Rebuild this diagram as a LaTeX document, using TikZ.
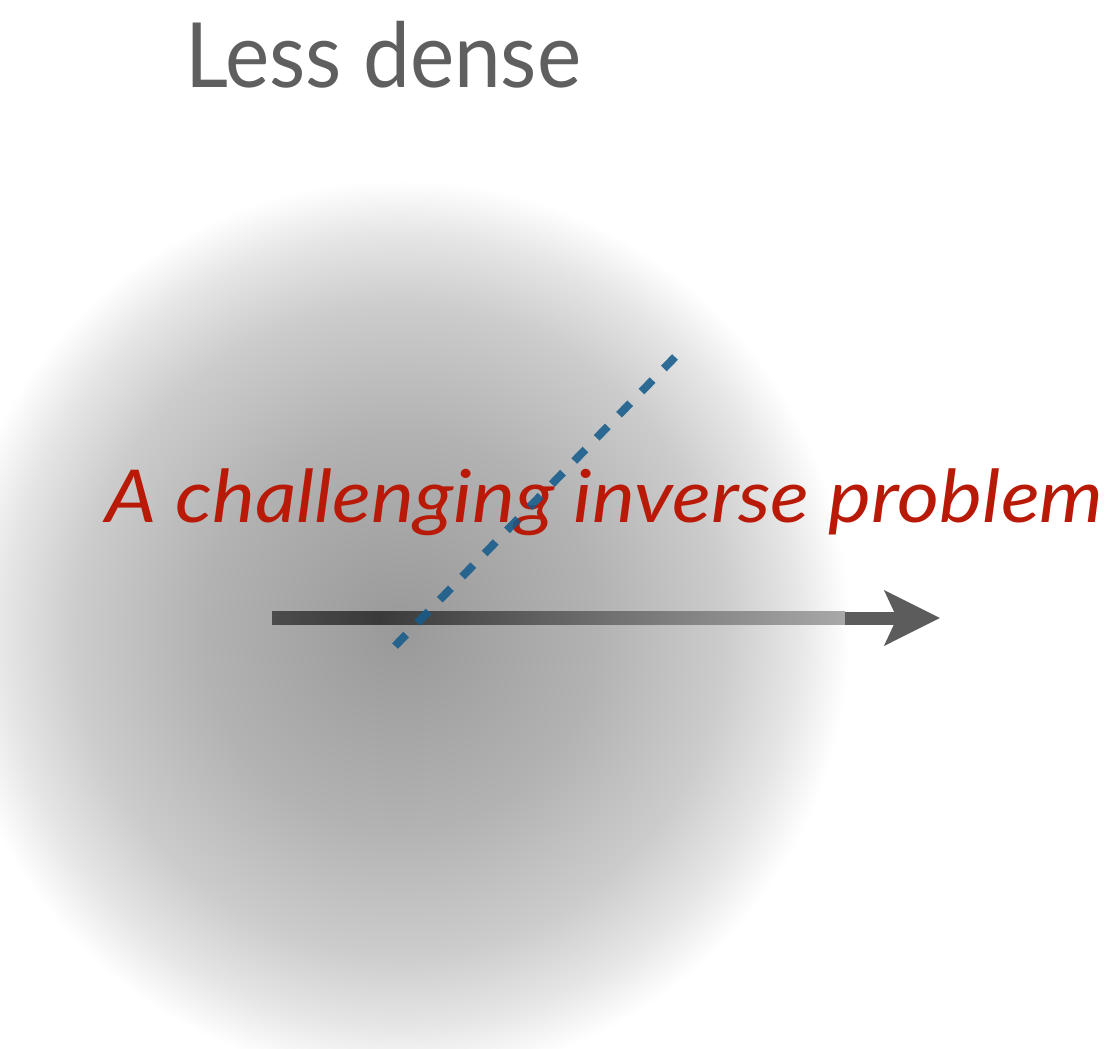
\documentclass[tikz,border=0pt]{standalone}
\usepackage{fontspec}
\usetikzlibrary{arrows.meta}
\newfontfamily\labelfont{Lato}
\definecolor{blobA}{gray}{0.60}
\definecolor{blobB}{gray}{0.70}
\definecolor{blobC}{gray}{0.80}
\definecolor{blobD}{gray}{0.90}
\definecolor{barA}{RGB}{76,76,76}
\definecolor{barB}{RGB}{58,58,58}
\definecolor{barC}{RGB}{168,168,168}
\definecolor{headgray}{RGB}{92,92,92}
\definecolor{textgray}{RGB}{95,95,95}
\definecolor{titlered}{RGB}{185,26,8}
\definecolor{dashblue}{RGB}{22,92,140}
\pgfdeclareradialshading{blob}{\pgfpoint{0bp}{0bp}}{color(0bp)=(blobA); color(11bp)=(blobB); color(18bp)=(blobC); color(22bp)=(blobD); color(25bp)=(white); color(50bp)=(white)}
\pgfdeclarehorizontalshading{bargrad}{100bp}{color(0bp)=(barA); color(25bp)=(barA); color(34.4bp)=(barB); color(75bp)=(barC); color(100bp)=(barC)}
\tikzset{
  lesslabel/.style={font=\labelfont\fontsize{90}{100}\selectfont, text=textgray, inner sep=0pt, anchor=base west, xscale=0.93},
  titlelabel/.style={font=\labelfont\itshape\fontsize{73}{80}\selectfont, text=titlered, inner sep=0pt, anchor=base west, xscale=1.11},
  headarrow/.style={line width=13pt, draw=headgray, -{Stealth[length=55pt, width=54pt, inset=12pt]}},
  dashline/.style={line width=8pt, draw=dashblue, opacity=0.88, dash pattern=on 16pt off 16.2pt}
}
\begin{document}
\begin{tikzpicture}[x=1pt,y=-1pt]
\useasboundingbox (0,0) rectangle (1116,1049);
\clip (0,0) rectangle (1116,1049);
\shade[shading=blob] (400,630) circle[radius=450];
\node[lesslabel] (less) at (185,87) {Less dense};
\node[titlelabel] (title) at (105,522) {A challenging inverse problem};
\coordinate (barstart) at (272,618);
\coordinate (barmid) at (845,618);
\coordinate (tip) at (940,618);
\shade[shading=bargrad] (272,611.5) rectangle (845,624.5);
\draw[headarrow] (barmid) -- (tip);
\coordinate (dashlow) at (395,646);
\coordinate (dashhigh) at (675,357);
\draw[dashline] (dashlow) -- (dashhigh);
\end{tikzpicture}
\end{document}
